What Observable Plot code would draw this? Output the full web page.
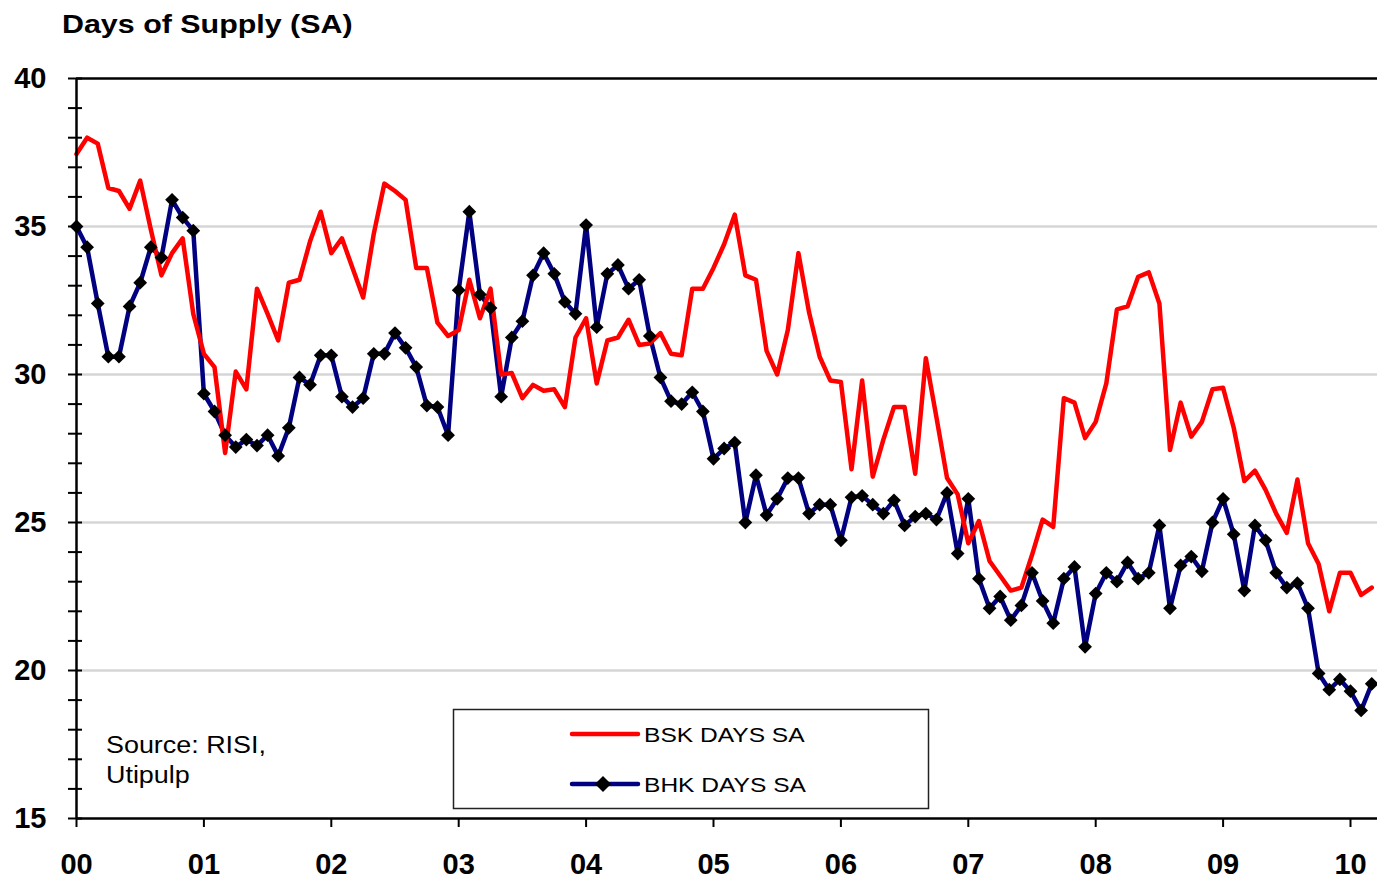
<!DOCTYPE html>
<html>
<head>
<meta charset="utf-8">
<script src="https://cdn.jsdelivr.net/npm/d3@7"></script>
<script src="https://cdn.jsdelivr.net/npm/@observablehq/plot@0.6"></script>
<style>
  html, body { margin: 0; padding: 0; background: #fff; }
  #wrap { position: relative; width: 1377px; height: 880px; overflow: hidden; }
  #chart { position: absolute; left: 0; top: 0; }
  #overlay { position: absolute; left: 0; top: 0; pointer-events: none; }
</style>
</head>
<body>
<div id="wrap">
  <div id="chart"></div>
  <svg id="overlay" width="1377" height="880"></svg>
</div>
<script>
// ---- data (monthly, Jan 2000 .. Mar 2010) ----
const startYear = 2000;
const yearLabels = ["00","01","02","03","04","05","06","07","08","09","10"];
const yTickValues = [15, 20, 25, 30, 35, 40];
const gridValues = [20, 25, 30, 35];
const seriesNames = ["BSK DAYS SA", "BHK DAYS SA"];

const bsk = [
  37.45, 38.0, 37.8, 36.3, 36.2, 35.6, 36.55, 34.9, 33.35, 34.1, 34.6, 32.05,
  30.7, 30.25, 27.35, 30.1, 29.5, 32.9, 32.05, 31.15, 33.1, 33.2, 34.5, 35.5,
  34.1, 34.6, 33.6, 32.6, 34.75, 36.45, 36.2, 35.9, 33.6, 33.6, 31.75, 31.3,
  31.5, 33.2, 31.9, 32.9, 30.0, 30.05, 29.2, 29.65, 29.45, 29.5, 28.9, 31.25,
  31.9, 29.7, 31.15, 31.25, 31.85, 31.0, 31.05, 31.4, 30.7, 30.65, 32.9, 32.9,
  33.6, 34.4, 35.4, 33.35, 33.2, 30.8, 30.0, 31.5, 34.1, 32.1, 30.6, 29.8,
  29.75, 26.8, 29.8, 26.55, 27.8, 28.9, 28.9, 26.65, 30.55, 28.55, 26.5, 25.95,
  24.3, 25.05, 23.7, 23.2, 22.7, 22.8, 23.9, 25.1, 24.85, 29.2, 29.05, 27.85,
  28.4, 29.7, 32.2, 32.3, 33.3, 33.45, 32.4, 27.45, 29.05, 27.9, 28.4, 29.5,
  29.55, 28.2, 26.4, 26.75, 26.1, 25.3, 24.65, 26.45, 24.3, 23.6, 22.0, 23.3,
  23.3, 22.55, 22.8
];

const bhk = [
  35.0, 34.3, 32.4, 30.6, 30.6, 32.3, 33.1, 34.3, 33.95, 35.9, 35.3, 34.86,
  29.35, 28.75, 27.95, 27.55, 27.8, 27.6, 27.95, 27.25, 28.2, 29.9, 29.65, 30.65,
  30.65, 29.25, 28.9, 29.2, 30.7, 30.7, 31.4, 30.9, 30.25, 28.95, 28.9, 27.95,
  32.85, 35.5, 32.7, 32.25, 29.25, 31.25, 31.8, 33.35, 34.1, 33.4, 32.45, 32.05,
  35.05, 31.6, 33.4, 33.7, 32.9, 33.2, 31.3, 29.9, 29.1, 29.0, 29.4, 28.75,
  27.15, 27.5, 27.7, 25.0, 26.6, 25.25, 25.8, 26.5, 26.5, 25.3, 25.6, 25.6,
  24.4, 25.85, 25.9, 25.6, 25.3, 25.75, 24.9, 25.2, 25.3, 25.1, 26.0, 23.95,
  25.8, 23.1, 22.1, 22.5, 21.7, 22.2, 23.3, 22.35, 21.6, 23.1, 23.5, 20.8,
  22.6, 23.3, 23.0, 23.65, 23.1, 23.3, 24.9, 22.1, 23.55, 23.85, 23.35, 25.0,
  25.8, 24.6, 22.7, 24.9, 24.4, 23.3, 22.8, 22.95, 22.1, 19.9, 19.35, 19.7,
  19.3, 18.65, 19.55
];

// ---- table built from arrays: x = years since start ----
const bskData = bsk.map((v, i) => ({t: i / 12, v}));
const bhkData = bhk.map((v, i) => ({t: i / 12, v}));

const W = 1377, H = 880;
const mL = 76, mR = 0, mT = 78, mB = 62;
const pxPerYear = 127.4;
const xMax = (W - mL - mR) / pxPerYear;
const font = "'Liberation Sans', Arial, sans-serif";

const chart = Plot.plot({
  width: W,
  height: H,
  marginLeft: mL,
  marginRight: mR,
  marginTop: mT,
  marginBottom: mB,
  style: {fontFamily: font, background: "#fff", overflow: "visible"},
  x: {domain: [0, xMax]},
  y: {domain: [15, 40]},
  marks: [
    Plot.ruleY(gridValues, {stroke: "#d6d6d6", strokeWidth: 2.5}),
    Plot.line(bhkData, {x: "t", y: "v", stroke: "#000080", strokeWidth: 4.5, strokeLinejoin: "round"}),
    Plot.line(bskData, {x: "t", y: "v", stroke: "#ff0000", strokeWidth: 4.5, strokeLinejoin: "round"}),
    Plot.dot(bhkData, {x: "t", y: "v", symbol: "diamond2", r: 6.2, fill: "#000", stroke: null}),
    Plot.ruleY([40], {stroke: "#000", strokeWidth: 2.5}),
    Plot.ruleY([15], {stroke: "#000", strokeWidth: 2.5}),
    Plot.ruleX([0], {stroke: "#000", strokeWidth: 2.5}),
    // minor y ticks crossing the axis (inner part)
    Plot.tickY(d3.range(15, 41), {y: d => d, insetRight: W - mL - mR - 6, stroke: "#000", strokeWidth: 2}),
    Plot.axisY({ticks: d3.range(15, 41), tickSize: 8, tickFormat: () => "", strokeWidth: 2, label: null}),
    Plot.axisY({ticks: yTickValues, tickSize: 0, tickPadding: 30, tickFormat: d => String(d),
      fontSize: 29, fontWeight: "bold", fill: "#000", label: null}),
    Plot.axisX({ticks: d3.range(0, 11), tickSize: 9, tickPadding: 26, strokeWidth: 2,
      tickFormat: d => yearLabels[d], fontSize: 29, fontWeight: "bold", fill: "#000", label: null})
  ]
});
document.getElementById("chart").appendChild(chart);

// ---- overlay: title, source note, legend ----
const ov = d3.select("#overlay");
const sx = 1.17;
function stretchedText(x, y, str, size, weight) {
  ov.append("text")
    .attr("transform", `translate(${x},${y}) scale(${sx},1)`)
    .attr("font-family", font)
    .attr("font-size", size)
    .attr("font-weight", weight)
    .attr("fill", "#000")
    .text(str);
}
stretchedText(62, 33, "Days of Supply (SA)", 26, "bold");
stretchedText(106, 753, "Source: RISI,", 23, "normal");
stretchedText(106, 783, "Utipulp", 23, "normal");

// legend box
ov.append("rect").attr("x", 453.5).attr("y", 709.5).attr("width", 475).attr("height", 99)
  .attr("fill", "#fff").attr("stroke", "#222").attr("stroke-width", 1.5);
ov.append("line").attr("x1", 572).attr("x2", 638).attr("y1", 734).attr("y2", 734)
  .attr("stroke", "#ff0000").attr("stroke-width", 4.5).attr("stroke-linecap", "round");
ov.append("line").attr("x1", 572).attr("x2", 638).attr("y1", 784).attr("y2", 784)
  .attr("stroke", "#000080").attr("stroke-width", 4.5).attr("stroke-linecap", "round");
ov.append("path").attr("d", "M603,776 L611,784 L603,792 L595,784 Z").attr("fill", "#000");
stretchedText(644, 742, seriesNames[0], 21, "normal");
stretchedText(644, 792, seriesNames[1], 21, "normal");
</script>
</body>
</html>
